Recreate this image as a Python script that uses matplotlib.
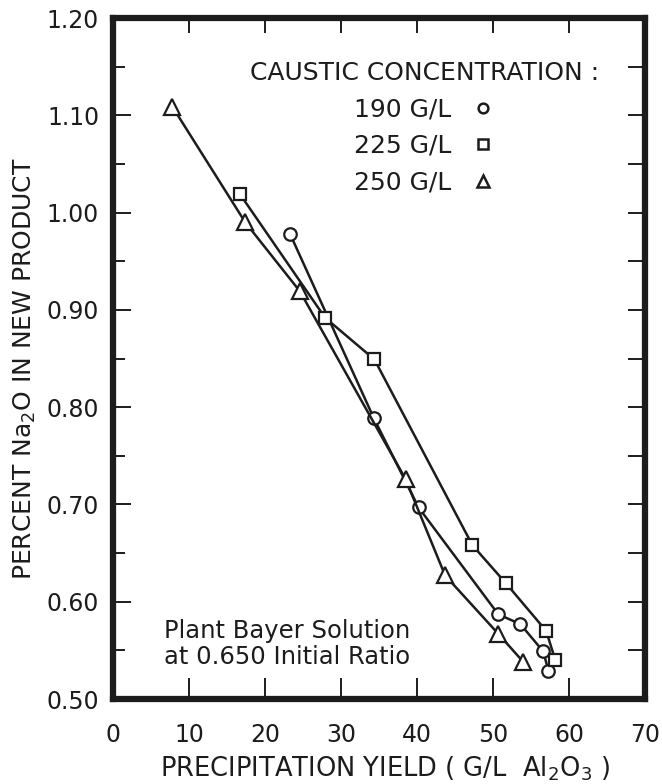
import matplotlib

matplotlib.use("Agg")
import matplotlib.pyplot as plt
from matplotlib.lines import Line2D
from matplotlib.ticker import MultipleLocator

# caustic 190 g/l (circles)
x190 = [23.3, 34.3, 40.2, 50.7, 53.6, 56.6, 57.3]
y190 = [0.978, 0.789, 0.697, 0.587, 0.577, 0.549, 0.529]
# caustic 225 g/l (squares)
x225 = [16.7, 27.9, 34.4, 47.3, 51.7, 57.0, 58.2]
y225 = [1.019, 0.892, 0.849, 0.658, 0.619, 0.570, 0.540]
# caustic 250 g/l (triangles)
x250 = [7.8, 17.4, 24.6, 38.5, 43.7, 50.7, 54.0]
y250 = [1.109, 0.990, 0.919, 0.726, 0.627, 0.567, 0.538]

labels = ["190 G/L", "225 G/L", "250 G/L"]
markers = ["o", "s", "^"]
xticks = [0, 10, 20, 30, 40, 50, 60, 70]
yticks = [0.50, 0.60, 0.70, 0.80, 0.90, 1.00, 1.10, 1.20]

INK = "#1c1c1c"
plt.rcParams["font.family"] = ["DejaVu Sans"]
plt.rcParams["text.color"] = INK

fig = plt.figure(figsize=(6.62, 7.84), dpi=100)
ax = fig.add_axes([0.1707, 0.1084, 0.8036, 0.8686])

series = [(x190, y190, 9), (x225, y225, 9), (x250, y250, 11)]
for (xs, ys, ms), mk in zip(series, markers):
    ax.plot(xs, ys, color=INK, lw=1.8, marker=mk, ms=ms, mfc="white", mec=INK, mew=1.6)

ax.set_xlim(0, 70)
ax.set_ylim(0.50, 1.20)
ax.set_xticks(xticks, [f"{v}" for v in xticks])
ax.set_yticks(yticks, [f"{v:.2f}" for v in yticks])
ax.yaxis.set_minor_locator(MultipleLocator(0.05))

for s in ax.spines.values():
    s.set_linewidth(4.5)
    s.set_color(INK)

ax.tick_params(axis="x", which="major", direction="in", length=15, width=1.4,
               color=INK, labelsize=17, pad=17, labelcolor=INK)
ax.tick_params(axis="y", which="major", direction="in", length=13, width=1.4,
               color=INK, labelsize=17, pad=10, labelcolor=INK)
ax.tick_params(axis="y", which="minor", direction="in", length=8.5, width=1.4, color=INK)

# top / right ticks (no labels)
secx = ax.secondary_xaxis("top")
secx.set_xticks(xticks)
secx.tick_params(direction="in", length=11, width=1.4, color=INK, labeltop=False)
secx.spines["top"].set_visible(False)
secy = ax.secondary_yaxis("right")
secy.set_yticks(yticks)
secy.yaxis.set_minor_locator(MultipleLocator(0.05))
secy.tick_params(which="both", direction="in", length=12, width=1.4, color=INK, labelright=False)
secy.spines["right"].set_visible(False)

ax.set_xlabel("PRECIPITATION YIELD ( G/L  Al$_2$O$_3$ )", fontsize=18.5, color=INK, va="baseline")
ax.xaxis.set_label_coords(0.511, -0.1145)
ax.set_ylabel("PERCENT Na$_2$O IN NEW PRODUCT", fontsize=18, color=INK, va="center")
ax.yaxis.set_label_coords(-0.165, 0.485)

handles = [Line2D([], [], ls="none", marker=mk, ms=ms, mfc="white", mec=INK, mew=1.8)
           for mk, ms in zip(markers, [7, 7, 8.5])]
leg = ax.legend(handles, labels, title="CAUSTIC CONCENTRATION :", markerfirst=False,
                loc="upper center", bbox_to_anchor=(0.586, 0.937), frameon=False,
                fontsize=18, title_fontsize=18, borderpad=0, borderaxespad=0,
                handlelength=1.0, handletextpad=0.8, labelspacing=0.5)
leg.get_title().set_color(INK)

ax.text(0.096, 0.081, "Plant Bayer Solution\nat 0.650 Initial Ratio", transform=ax.transAxes,
        fontsize=17.5, ha="left", va="center", linespacing=1.12, color=INK)

fig.savefig("out.png", dpi=100, facecolor="white")
